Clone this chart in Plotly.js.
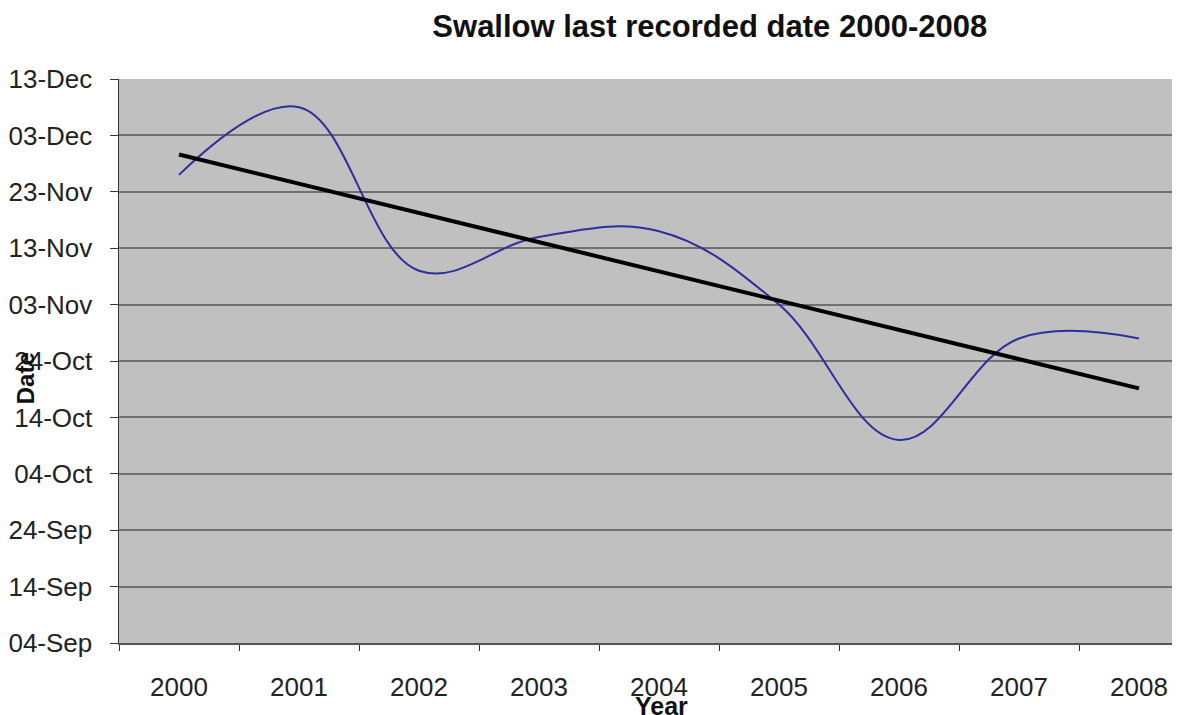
<!DOCTYPE html>
<html>
<head>
<meta charset="utf-8">
<script src="https://cdn.plot.ly/plotly-3.0.1.min.js"></script>
<style>html,body{margin:0;padding:0;background:#fff;}#chart{width:1179px;height:715px;}</style>
</head>
<body>
<div id="chart"></div>
<script>
var years = ['2000','2001','2002','2003','2004','2005','2006','2007','2008'];
var lastDates = ['2001-11-26','2001-12-08','2001-11-09','2001-11-15','2001-11-16','2001-11-03','2001-10-10','2001-10-28','2001-10-28'];
var tickDates = ['2001-09-04','2001-09-14','2001-09-24','2001-10-04','2001-10-14','2001-10-24','2001-11-03','2001-11-13','2001-11-23','2001-12-03','2001-12-13'];
var tickLabels = ['04-Sep','14-Sep','24-Sep','04-Oct','14-Oct','24-Oct','03-Nov','13-Nov','23-Nov','03-Dec','13-Dec'];

// linear trend (least squares) of date vs year index
var ms = lastDates.map(function(d){ return Date.parse(d + 'T00:00:00Z'); });
var n = ms.length, sx = 0, sy = 0;
for (var i = 0; i < n; i++) { sx += i; sy += ms[i]; }
var mx = sx / n, my = sy / n, sxy = 0, sxx = 0;
for (var i = 0; i < n; i++) { sxy += (i - mx) * (ms[i] - my); sxx += (i - mx) * (i - mx); }
var slope = sxy / sxx, icpt = my - slope * mx;
var trend = years.map(function(y, i){ return new Date(icpt + slope * i).toISOString(); });

var font = 'Liberation Sans, Arial, sans-serif';

var data = [
  {x: years, y: lastDates, type: 'scatter', mode: 'lines',
   line: {color: '#2E2E9C', width: 2, shape: 'spline', smoothing: 1.1}, hoverinfo: 'x+y'},
  {x: years, y: trend, type: 'scatter', mode: 'lines',
   line: {color: '#000000', width: 4}, hoverinfo: 'skip'}
];

var layout = {
  width: 1179, height: 715,
  margin: {l: 119, r: 7, t: 79, b: 72},
  paper_bgcolor: '#ffffff',
  plot_bgcolor: '#C0C0C0',
  showlegend: false,
  font: {family: font, color: '#222222', size: 26},
  title: {text: 'Swallow last recorded date 2000-2008', font: {family: font, size: 31, color: '#111111', weight: 'bold'},
          x: 0.602, xref: 'container', xanchor: 'center', y: 0.964, yref: 'container', yanchor: 'middle'},
  xaxis: {
    type: 'category', range: [-0.5, 8.275], tickson: 'boundaries',
    ticks: 'outside', ticklen: 6, tickcolor: '#333333', tickwidth: 1,
    showgrid: false, showline: true, linecolor: '#555555', linewidth: 2,
    tickfont: {family: font, size: 26, color: '#222222'},
    ticklabelstandoff: 20, zeroline: false, fixedrange: true
  },
  yaxis: {
    type: 'date', range: ['2001-09-04', '2001-12-13'],
    tickmode: 'array', tickvals: tickDates, ticktext: tickLabels,
    ticks: 'outside', ticklen: 8, tickcolor: '#333333', tickwidth: 1,
    showgrid: true, gridcolor: '#707070', gridwidth: 2,
    showline: true, linecolor: '#333333', linewidth: 1.5,
    tickfont: {family: font, size: 26, color: '#222222'},
    ticklabelstandoff: 12, zeroline: false, fixedrange: true
  },
  annotations: [
    {text: '<b>Date</b>', textangle: -90, xref: 'paper', yref: 'paper', x: -0.088, y: 0.47,
     xanchor: 'center', yanchor: 'middle', showarrow: false, font: {family: font, size: 24, color: '#111111'}},
    {text: '<b>Year</b>', xref: 'paper', yref: 'paper', x: 0.515, y: -0.083,
     xanchor: 'center', yanchor: 'top', showarrow: false, font: {family: font, size: 25, color: '#111111'}}
  ]
};

Plotly.newPlot('chart', data, layout, {displayModeBar: false, staticPlot: true});
</script>
</body>
</html>
